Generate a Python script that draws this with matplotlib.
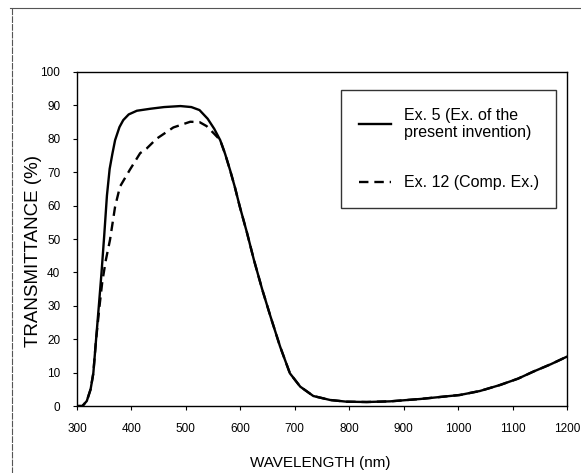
import matplotlib.pyplot as plt
from matplotlib.lines import Line2D

plt.rcParams['font.family'] = ['Liberation Sans', 'DejaVu Sans']

# Ex. 5 (solid)
wl_ex5 = [300, 310, 318, 325, 330, 335, 340, 345, 350, 355, 360, 365, 370, 378,
          385, 395, 410, 435, 460, 490, 510, 525, 540, 552, 563, 572, 581, 590,
          599, 612, 625, 640, 655, 673, 691, 710, 734, 765, 795, 832, 875, 930,
          1003, 1040, 1077, 1110, 1138, 1170, 1200]
t_ex5 = [0, 0, 1.5, 5, 9.8, 19.8, 29.7, 39.8, 51, 63, 71, 75.5, 79.6, 83.5,
         85.6, 87.3, 88.4, 89, 89.5, 89.8, 89.5, 88.6, 86, 83, 79.6, 75.5, 70.7, 65.5,
         59.7, 52, 43.7, 35, 27, 17.8, 9.8, 5.8, 3.0, 1.8, 1.3, 1.2, 1.4, 2.1,
         3.3, 4.5, 6.3, 8.2, 10.3, 12.5, 14.8]

# Ex. 12 (dashed)
wl_ex12 = [300, 310, 318, 325, 330, 335, 342, 346.5, 353, 360.6, 370, 379, 397,
           416, 428, 446, 477, 508, 525, 538, 552, 563, 572, 581, 590, 599, 612,
           625, 640, 655, 673, 691, 710, 734, 765, 795, 832, 875, 930, 1003, 1040,
           1077, 1110, 1138, 1170, 1200]
t_ex12 = [0, 0, 1.5, 5, 9.8, 19.8, 30.8, 37.2, 43.7, 49.7, 59.7, 65.7, 70.7,
          75.7, 77.1, 80, 83.4, 85.1, 85, 83.8, 81.5, 79.6, 75.5, 70.7, 65.5, 59.7, 52,
          43.7, 35, 27, 17.8, 9.8, 5.8, 3.0, 1.8, 1.3, 1.2, 1.4, 2.1, 3.3, 4.5,
          6.3, 8.2, 10.3, 12.5, 14.8]

x_ticks = [300, 400, 500, 600, 700, 800, 900, 1000, 1100, 1200]
y_ticks = [0, 10, 20, 30, 40, 50, 60, 70, 80, 90, 100]
labels = ['Ex. 5 (Ex. of the\npresent invention)', 'Ex. 12 (Comp. Ex.)']

fig = plt.figure(figsize=(5.81, 4.73), dpi=100)
ax = fig.add_axes([0.1325, 0.1416, 0.8435, 0.7062])

ax.plot(wl_ex12, t_ex12, color='black', lw=1.7, ls=(0, (4, 2.5)))
ax.plot(wl_ex5, t_ex5, color='black', lw=1.7)

ax.set_xlim(300, 1200)
ax.set_ylim(0, 100)
ax.set_xticks(x_ticks)
ax.set_yticks(y_ticks)
ax.tick_params(direction='out', length=3, width=0.8, labelsize=8.5, pad=9)
for s in ax.spines.values():
    s.set_linewidth(1.0)

ax.set_xlabel('WAVELENGTH (nm)', fontsize=11)
ax.set_ylabel('TRANSMITTANCE (%)', fontsize=13.5)
ax.xaxis.set_label_coords(0.496, -0.15)
ax.yaxis.set_label_coords(-0.071, 0.463)

handles = [Line2D([], [], color='black', lw=1.7),
           Line2D([], [], color='black', lw=1.7, ls=(0, (4, 2.5)))]
leg = ax.legend(handles, labels, loc='upper right', bbox_to_anchor=(0.978, 0.946),
                fontsize=11.5, frameon=True, fancybox=False, edgecolor='black',
                handlelength=2.0, handletextpad=0.8, labelspacing=2.2,
                borderpad=1.1, borderaxespad=0)
leg.get_frame().set_linewidth(1.0)

# scanned page frame
fig.add_artist(Line2D([10 / 581, 1], [1 - 8 / 473, 1 - 8 / 473], color='#555555',
                      lw=0.8, transform=fig.transFigure))
fig.add_artist(Line2D([12 / 581, 12 / 581], [1 - 8 / 473, 0], color='#555555',
                      lw=0.8, ls=(0, (6, 1)), transform=fig.transFigure))

fig.savefig('out.png', dpi=100)
